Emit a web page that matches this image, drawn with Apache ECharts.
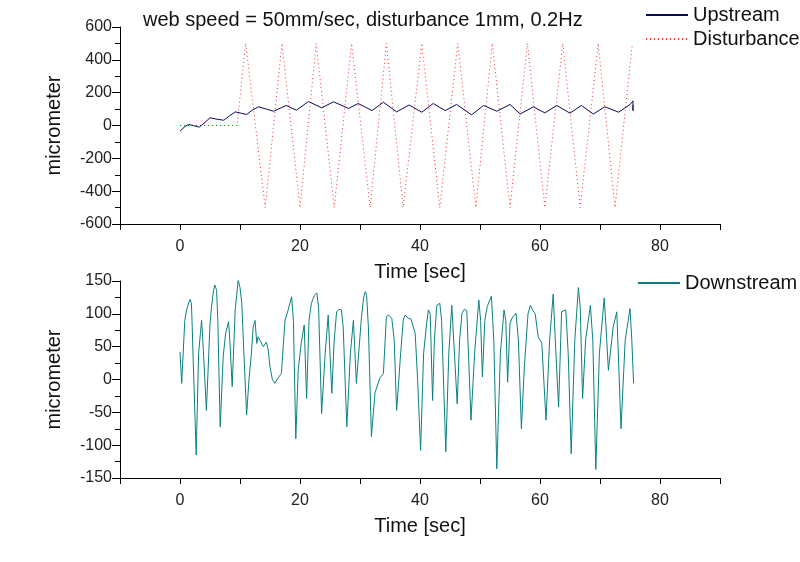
<!DOCTYPE html>
<html>
<head>
<meta charset="utf-8">
<script src="https://cdn.jsdelivr.net/npm/echarts@6/dist/echarts.min.js"></script>
<style>html,body{margin:0;padding:0;background:#fff;}#c{width:800px;height:562px;}</style>
</head>
<body>
<div id="c"></div>
<script>
// ---- data ----
const titleText = 'web speed = 50mm/sec, disturbance 1mm, 0.2Hz';
const xTicksLabelled = [0, 20, 40, 60, 80];

const upstreamT = [0, 0.7, 1.4, 2.2, 3.2, 4.2, 5, 6.2, 7.3, 8.3, 9.2, 10.2, 11.1, 12.1, 13.1, 14.4, 15.6, 17.7, 19.4, 21.4, 23.6, 25.6, 28.1, 29.7, 32, 33.9, 36.1,
  38.2, 40.3, 42.2, 44.2, 46.1, 48.6, 50.6, 52.8, 55, 56.7, 58.9, 60.8, 62.8, 65, 66.9, 68.9, 70.8, 73.1, 75, 75.5, 75.5, 75.5];
const upstreamV = [-35, -10, 6, 0, -10, 20, 47, 38, 32, 60, 83, 75, 67, 95, 114, 100, 87, 122, 93, 146, 108, 144, 104, 134, 91, 142, 83,
  125, 81, 134, 91, 128, 65, 122, 87, 128, 70, 114, 77, 122, 75, 122, 70, 114, 81, 128, 150, 90, 125];

const disturbT = [0, 3.3, 9.5, 10.95, 14.2, 17, 20, 22.7, 25.7, 28.6, 31.7, 34.4, 37.2, 40.3, 43.3, 46.3, 49.3, 52.05, 55, 57.9, 60.8, 63.8, 66.7, 69.7, 72.5, 75.4];
const disturbV = [0, 0, 0, 500, -500, 500, -500, 500, -500, 500, -500, 500, -500, 500, -500, 500, -500, 500, -500, 500, -500, 500, -500, 500, -500, 500];

const downT = [0, 0.28, 0.55, 0.8, 1.1, 1.5, 1.7, 1.9, 2.0, 2.2, 2.7, 3.1, 3.4, 3.6, 3.8, 4.4, 4.8, 5.0, 5.3, 5.6, 5.8, 6.1, 6.3, 6.7, 7.2, 7.6, 8.1, 8.3, 8.7, 9.2, 9.7, 10.0, 10.3, 10.6, 11.1, 11.5, 11.9, 12.2, 12.5, 12.8, 13.0, 13.3, 13.6, 13.9, 14.4, 14.7, 15.0, 15.4, 15.8, 16.4, 16.9, 17.2, 17.5, 18.0, 18.6, 18.9, 19.3, 19.7, 20.2, 20.7, 21.1, 21.5, 21.9, 22.4, 22.8, 23.1, 23.6, 24.2, 24.7, 25.3, 25.7, 26.1, 26.5, 26.9, 27.2, 27.8, 28.4, 28.9, 29.4, 29.7, 30.2, 30.6, 30.9, 31.1, 31.4, 31.9, 32.5, 33.3, 33.9, 34.4, 34.8, 35.3, 35.7, 36.1, 36.4, 36.7,
  37.2, 37.5, 38.1, 38.5, 39.2, 39.6, 40.1, 40.6, 41.1, 41.4, 41.7, 42.1, 42.4, 42.8, 43.3, 43.6, 44.3, 44.8, 45.3, 45.6, 46.2, 46.6, 47, 47.4, 47.8, 48.5, 49.1, 49.8, 50.1, 50.4, 50.8, 51.2, 51.9, 52.3, 52.8, 53.4, 54.0, 54.3, 54.6, 55.0, 55.3, 56.0, 56.4, 56.9, 57.4, 58.0, 58.4, 58.8, 59.2, 59.7, 60.3, 61, 61.6, 62.2, 62.6, 63.1, 63.6, 64.3, 64.7, 65.2, 65.8, 66.4, 66.7, 67.1, 67.6, 68.4, 68.8, 69.3, 69.9, 70.7, 71.0, 71.4, 71.7, 72.2, 72.8, 73.1, 73.5, 74.2, 75, 75.3, 75.6];
const downV = [42, -6, -9, 90, 106, 118, 122, 116, 90, 30, -115, 40, 70, 90, 60, -47, 40, 85, 115, 136, 144, 136, 90, -72, 35, 70, 88, 60, -11, 106, 152, 140, 116, 50, -54, 0, 40, 80, 90, 55, 65, 60, 62, 50, 57, 45, 19, 0, -6, 3, 9, 50, 90, 105, 126, 90, -90, 14, 55, 83, -29, 90, 116, 128, 132, 110, -52, 40, 98, -21, 60, 103, 107, 106, 80, -72, 40, 90, -6, -6, 90, 125, 134, 128, 80, -87, -20, 2, 9, 96, 98, 93, 60, -47, -10, 30,
  90, 98, 93, 92, 70, 0, -108, 40, 85, 106, 100, -32, 60, 113, 116, 90, -110, 40, 113, 110, -37, 60, 101, 107, 105, -62, 40, 121, 90, 4, 90, 111, 127, 60, -136, 40, 106, 90, -4, 85, 93, 101, 60, -75, 20, 100, 113, 105, 100, 65, 55, -62, 60, 130, 50, -42, 103, 106, 40, -113, 60, 140, 110, -29, 60, 113, 60, -137, 40, 124, 80, 14, 14, 80, 103, 100, -75, 60, 108, 60, -6];

const zip = (a, b) => a.map((t, i) => [t, b[i]]);

// ---- chart ----
const FONT = 'Arial, "Liberation Sans", sans-serif';
const chart = echarts.init(document.getElementById('c'));

function xAxis(gridIndex) {
  return {
    type: 'value', gridIndex, min: -10, max: 90, interval: 10,
    name: 'Time [sec]', nameLocation: 'middle', nameGap: 38,
    nameTextStyle: { fontSize: 20, color: '#111', fontFamily: FONT },
    axisLine: { show: true, onZero: false, lineStyle: { color: '#000', width: 1 } },
    axisTick: { show: true, length: 6, lineStyle: { color: '#000' } },
    axisLabel: { fontSize: 16, color: '#222', fontFamily: FONT, margin: 15,
      formatter: v => xTicksLabelled.indexOf(v) >= 0 ? String(v) : '' },
    splitLine: { show: false }
  };
}
function yAxis(gridIndex, min, max, interval) {
  return {
    type: 'value', gridIndex, min, max, interval,
    name: 'micrometer', nameLocation: 'middle', nameGap: 56,
    nameTextStyle: { fontSize: 20, color: '#111', fontFamily: FONT },
    axisLine: { show: true, onZero: false, lineStyle: { color: '#000', width: 1 } },
    axisTick: { show: true, length: 8, lineStyle: { color: '#000' } },
    minorTick: { show: true, splitNumber: 2, length: 5, lineStyle: { color: '#000' } },
    axisLabel: { fontSize: 16, color: '#222', fontFamily: FONT, margin: 8 },
    splitLine: { show: false }
  };
}

const legendCommon = {
  orient: 'vertical', itemWidth: 42, itemHeight: 10, itemGap: 4,
  itemStyle: { opacity: 0 },
  textStyle: { fontSize: 20, color: '#111', fontFamily: FONT }
};

chart.setOption({
  animation: false,
  backgroundColor: '#fff',
  title: {
    text: titleText, left: 138, top: 5,
    textStyle: { fontSize: 20, fontWeight: 'normal', color: '#111', fontFamily: FONT }
  },
  legend: [
    Object.assign({ data: ['Upstream', 'Disturbance'], left: 640, top: 0 }, legendCommon),
    Object.assign({ data: ['Downstream'], left: 632, top: 268 }, legendCommon)
  ],
  grid: [
    { left: 120, top: 27, width: 600, height: 197 },
    { left: 120, top: 281, width: 600, height: 197 }
  ],
  xAxis: [xAxis(0), xAxis(1)],
  yAxis: [yAxis(0, -600, 600, 200), yAxis(1, -150, 150, 50)],
  series: [
    { name: 'Upstream', type: 'line', xAxisIndex: 0, yAxisIndex: 0, symbol: 'none', z: 3,
      lineStyle: { color: '#0a0a5a', width: 1 }, itemStyle: { color: '#0a0a5a' },
      data: zip(upstreamT, upstreamV) },
    { name: 'Disturbance', type: 'line', xAxisIndex: 0, yAxisIndex: 0, symbol: 'none', z: 2,
      lineStyle: { color: '#ff2a2a', width: 1, type: [1, 3] }, itemStyle: { color: '#ff2a2a' },
      data: zip(disturbT, disturbV) },
    { name: 'Downstream', type: 'line', xAxisIndex: 1, yAxisIndex: 1, symbol: 'none',
      lineStyle: { color: '#0b8080', width: 1 }, itemStyle: { color: '#0b8080' },
      data: zip(downT, downV) }
  ]
});
</script>
</body>
</html>
